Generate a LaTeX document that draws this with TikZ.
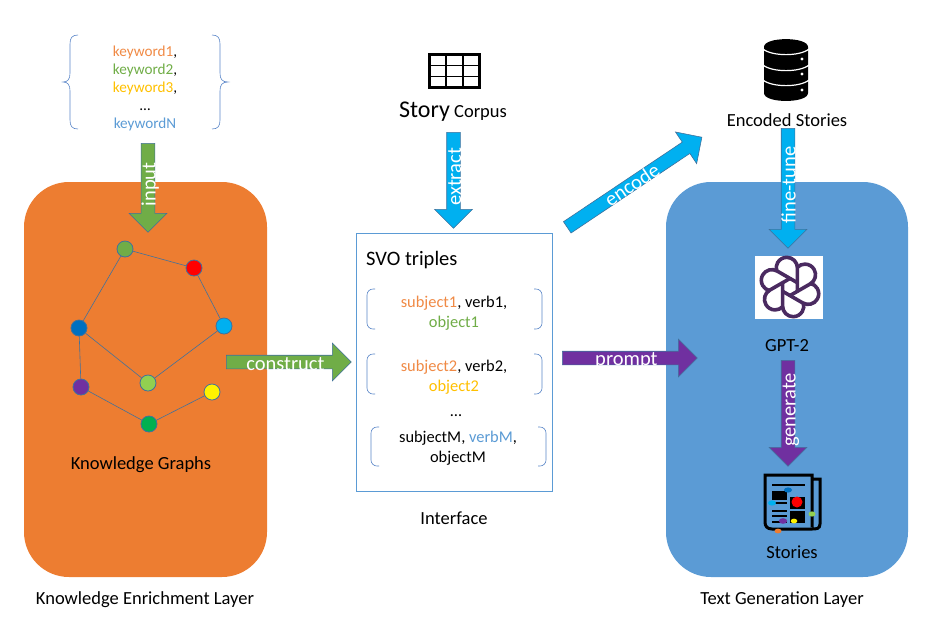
\documentclass[tikz,border=0pt]{standalone}
\usepackage{fontspec}
\setmainfont{Carlito}
\usetikzlibrary{shapes.arrows}
\definecolor{layerorange}{HTML}{ED7D31}
\definecolor{layerblue}{HTML}{5B9BD5}
\definecolor{wordgreen}{HTML}{70AD47}
\definecolor{wordgold}{HTML}{FFC000}
\definecolor{wordorange}{HTML}{F08A45}
\definecolor{wordblue}{HTML}{5B9BD5}
\definecolor{skyblue}{HTML}{00B0F0}
\definecolor{deepblue}{HTML}{0070C0}
\definecolor{violet}{HTML}{7030A0}
\definecolor{limegreen}{HTML}{92D050}
\definecolor{leafgreen}{HTML}{00B050}
\definecolor{edgeblue}{HTML}{41719C}
\definecolor{bracketblue}{HTML}{5A86C8}
\definecolor{logopurple}{HTML}{4A2A60}
\begin{document}
\begin{tikzpicture}
	[
	 	 %Styles
       x=1pt,y=-1pt,
       layer_box/.style={draw=none,rounded corners=45pt},
       graph_node/.style={circle,draw=edgeblue,thick,minimum size=16pt,inner sep=0pt},
       graph_edge/.style={draw=edgeblue,semithick},
       bracket_line/.style={draw=bracketblue,semithick,rounded corners=6pt},
       label_simple/.style={inner sep=0pt,font=\fontsize{18.5}{22}\selectfont,align=center},
       word_list/.style={inner sep=0pt,font=\fontsize{15.2}{18}\selectfont,align=center},
       triple_text/.style={inner sep=0pt,font=\fontsize{16.4}{20.5}\selectfont,align=center},
       block_arrow/.style={single arrow,draw=edgeblue,semithick,inner sep=0pt,text=white,
          minimum width=38pt,single arrow head extend=9.5pt,anchor=tail,
          text height=8pt,text depth=2pt,font=\fontsize{20.5}{20.5}\selectfont},
       paper_line/.style={line width=3pt,draw=black}
    ]
    \useasboundingbox (0,0) rectangle (937,625);

    %Layers
    \path[layer_box,fill=layerorange] (24,182) rectangle (267,577);
    \path[layer_box,fill=layerblue] (666,182) rectangle (908,577);
    \draw[draw=layerblue,semithick,fill=white] (356,233) rectangle (552,491);

    %Knowledge graph
    \node (topgreen)[graph_node,fill=wordgreen] at (125,249) {};
    \node (red)[graph_node,fill=red] at (194,268) {};
    \node (sky)[graph_node,fill=skyblue] at (224,326) {};
    \node (deep)[graph_node,fill=deepblue] at (79,328) {};
    \node (purple)[graph_node,fill=violet] at (81,387) {};
    \node (lime)[graph_node,fill=limegreen] at (148,383) {};
    \node (yellow)[graph_node,fill=yellow] at (212,392) {};
    \node (leaf)[graph_node,fill=leafgreen] at (149,424) {};
    \path[graph_edge]
       (topgreen) edge (red)
       (red) edge (sky)
       (sky) edge (lime)
       (lime) edge (deep)
       (deep) edge (topgreen)
       (deep) edge (purple)
       (purple) edge (leaf)
       (leaf) edge (yellow);

    %Keywords and braces
    \node (keywords)[word_list] at (145,88) {\textcolor{wordorange}{keyword1},\\
       \textcolor{wordgreen}{keyword2},\\ \textcolor{wordgold}{keyword3},\\ \dots\\
       \textcolor{wordblue}{keywordN}};
    \draw[draw=bracketblue,semithick] (78,35) .. controls (72,35) and (70,38) .. (70,44)
       -- (70,73) .. controls (70,79) and (68,82) .. (63,82)
       .. controls (68,82) and (70,85) .. (70,91) -- (70,120)
       .. controls (70,126) and (72,129) .. (78,129);
    \draw[draw=bracketblue,semithick] (212,35) .. controls (218,35) and (220,38) .. (220,44)
       -- (220,73) .. controls (220,79) and (222,82) .. (228,82)
       .. controls (222,82) and (220,85) .. (220,91) -- (220,120)
       .. controls (220,126) and (218,129) .. (212,129);

    %SVO triples
    \node (svo)[label_simple,anchor=west,font=\fontsize{20.5}{24}\selectfont] at (366,260) {SVO triples};
    \node (triple1)[triple_text] at (454,313) {\textcolor{wordorange}{subject1}, verb1,\\ \textcolor{wordgreen}{object1}};
    \node (triple2)[triple_text] at (454,377) {\textcolor{wordorange}{subject2}, verb2,\\ \textcolor{wordgold}{object2}};
    \node (dots)[triple_text] at (456,416) {\dots};
    \node (triple3)[triple_text] at (458,448) {subjectM, \textcolor{wordblue}{verbM},\\ objectM};
    \draw[bracket_line] (375,289) -- (367,289) -- (367,329) -- (375,329);
    \draw[bracket_line] (534,289) -- (542,289) -- (542,329) -- (534,329);
    \draw[bracket_line] (375,354) -- (367,354) -- (367,394) -- (375,394);
    \draw[bracket_line] (534,354) -- (542,354) -- (542,394) -- (534,394);
    \draw[bracket_line] (379,427) -- (371,427) -- (371,466) -- (379,466);
    \draw[bracket_line] (538,427) -- (546,427) -- (546,466) -- (538,466);

    %Block arrows
    \node (input)[block_arrow,fill=wordgreen,minimum height=89pt,rotate=90,shape border rotate=180] at (148,143) {\raisebox{-4.5pt}{input}};
    \node (extract)[block_arrow,fill=skyblue,minimum height=96pt,rotate=90,shape border rotate=180] at (453.5,132) {\raisebox{-4.5pt}{extract}};
    \node (encode)[block_arrow,fill=skyblue,minimum height=162pt,rotate=33.8] at (567,227.5) {\raisebox{-4.5pt}{encode}};
    \node (finetune)[block_arrow,fill=skyblue,minimum height=120pt,rotate=90,shape border rotate=180] at (788,128) {\raisebox{-4.5pt}{fine-tune}};
    \node (construct)[block_arrow,fill=wordgreen,minimum height=125pt] at (226,362) {\raisebox{-5pt}{construct}};
    \node (prompt)[block_arrow,fill=violet,minimum height=135pt] at (562,358) {\raisebox{-4pt}{prompt}};
    \node (generate)[block_arrow,fill=violet,minimum height=106pt,rotate=90,shape border rotate=180] at (788,360) {\raisebox{-4.5pt}{generate}};

    %Table icon
    \draw[line width=3pt,fill=white] (429.5,54.5) rectangle (479.5,87.5);
    \draw[line width=1.5pt] (429.5,65.5) -- (479.5,65.5) (429.5,76.5) -- (479.5,76.5);
    \draw[line width=2pt] (446,54.5) -- (446,87.5) (463,54.5) -- (463,87.5);

    %Database icon
    \fill[black] (764,47) .. controls (764,36.5) and (808,36.5) .. (808,47) -- (808,93)
       .. controls (808,103.6) and (764,103.6) .. (764,93) -- cycle;
    \draw[white,line width=1.2pt] (763,49) .. controls (772,56.5) and (800,56.5) .. (809,49);
    \draw[white,line width=1.2pt] (763,65) .. controls (772,72.5) and (800,72.5) .. (809,65);
    \draw[white,line width=1.2pt] (763,80) .. controls (772,87.5) and (800,87.5) .. (809,80);
    \fill[white] (802,59) circle (1.6) (802,74) circle (1.6) (802,90) circle (1.6);

    %Logo
    \fill[white] (755,256) rectangle (823,319);
    \begin{scope}[shift={(790,287)},x=1.06pt,y=1.06pt]
       \foreach \a in {0,60,...,300}
          \draw[rotate=\a,draw=logopurple,line width=3.6pt,line cap=round]
             (7,-4) -- (7,18) arc[radius=10,start angle=0,end angle=195];
    \end{scope}

    %Stories icon
    \draw[paper_line] (813,479) -- (820,479) -- (820,524) .. controls (820,529) and (816,529) .. (812,529) -- (772,529) .. controls (767,529) and (765,526) .. (765,522) -- (765,475) -- (812,475) -- (812,527);
    \draw[line width=1.5pt] (772,485) -- (805,485) (772,503) -- (787,503) (772,511) -- (787,511) (772,516) -- (787,516) (772,522) -- (787,522);
    \fill[black] (772,491) rectangle (787,500);
    \fill[black] (790,511) rectangle (805,523);
    \fill[black] (790,497) rectangle (805,509);
    \fill[deepblue] (788,490) ellipse (4 and 2.6);
    \fill[skyblue] (772,503) ellipse (4 and 2.6);
    \fill[red] (797,502) circle (5.5);
    \fill[limegreen] (812,514) ellipse (3.5 and 2.6);
    \fill[violet] (783,521) ellipse (4.2 and 2.8);
    \fill[yellow] (794,521) ellipse (3.3 and 2.4);
    \fill[layerorange] (778,531) ellipse (3.5 and 2.4);

    %Labels
    \node (story)[label_simple] at (453,112) {{\fontsize{24}{26}\selectfont Story} Corpus};
    \node (encoded)[label_simple] at (787,120) {Encoded Stories};
    \node (graphs)[label_simple] at (141,465) {Knowledge Graphs};
    \node (enrich)[label_simple] at (145,600) {Knowledge Enrichment Layer};
    \node (interface)[label_simple] at (454,518) {Interface};
    \node (textgen)[label_simple] at (782,600) {Text Generation Layer};
    \node (gpt)[label_simple] at (787,346) {GPT-2};
    \node (stories)[label_simple] at (792,552) {Stories};
\end{tikzpicture}
\end{document}
